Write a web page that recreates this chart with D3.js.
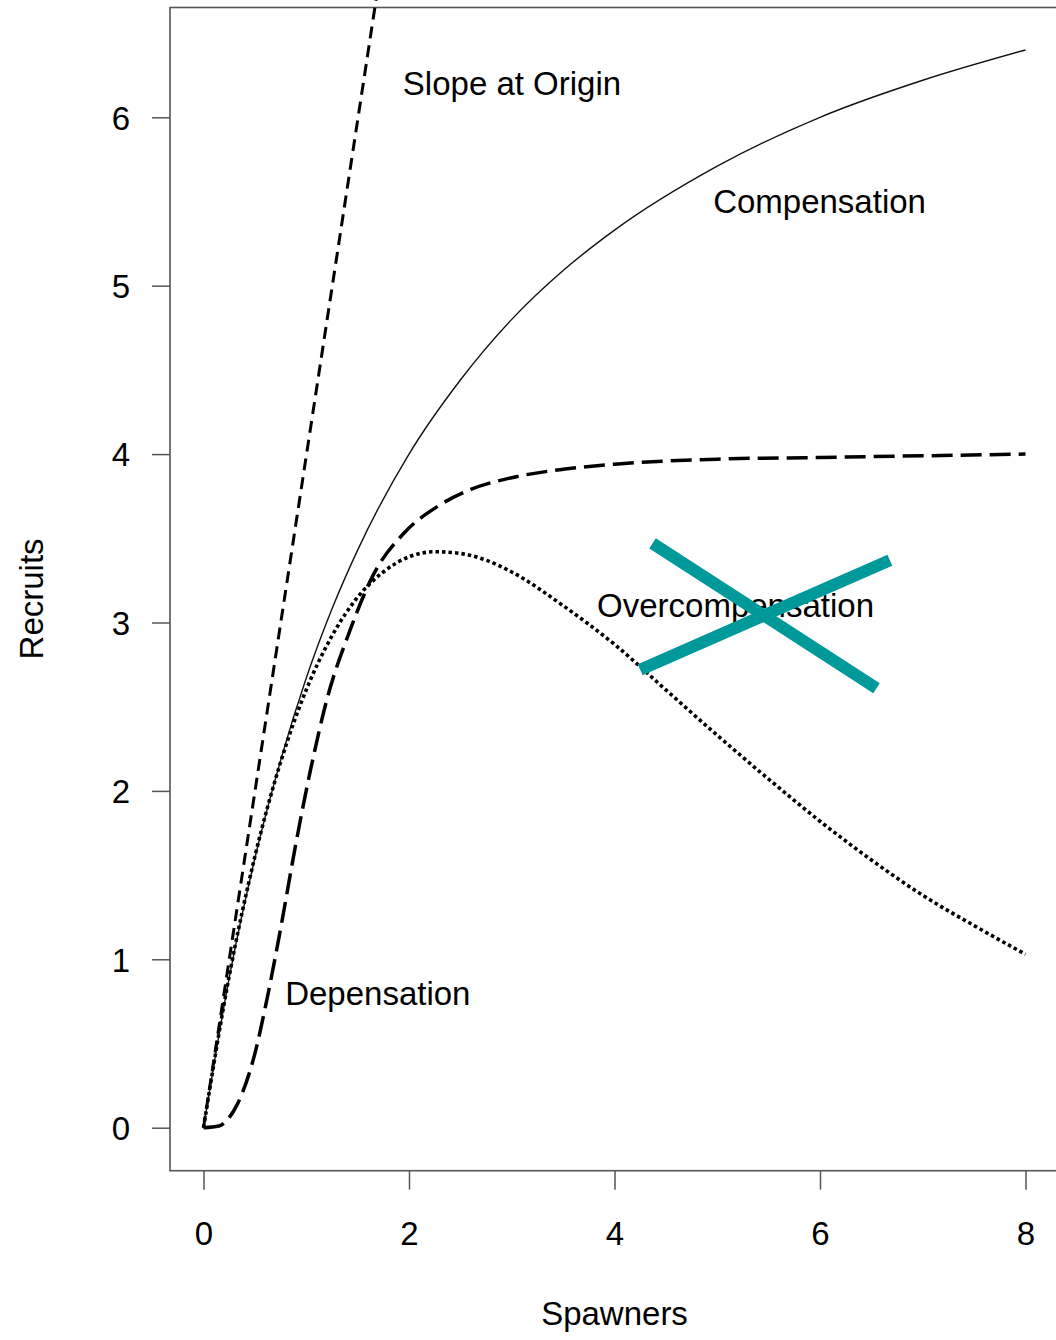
<!DOCTYPE html>
<html>
<head>
<meta charset="utf-8">
<script src="https://cdn.jsdelivr.net/npm/d3@7"></script>
<style>
  html, body { margin: 0; padding: 0; background: #fff; }
  svg { display: block; }
  text { font-family: "Liberation Sans", Arial, sans-serif; fill: #000; }
</style>
</head>
<body>
<svg id="chart" width="1056" height="1340"></svg>
<script>
// ---- data ----
const xTicks = [0, 2, 4, 6, 8];
const yTicks = [0, 1, 2, 3, 4, 5, 6];
const xLabel = "Spawners";
const yLabel = "Recruits";

const slopeS = [0, 1.68];
const slopeR = [0, 6.70];

const compS = [0, 0.25, 0.5, 0.75, 1, 1.25, 1.5, 2, 2.5, 3, 3.5, 4, 5, 6, 7, 8];
const compR = [0, 0.89, 1.60, 2.18, 2.67, 3.08, 3.43, 4.00, 4.44, 4.80, 5.09, 5.33, 5.71, 6.00, 6.22, 6.40];

const depS = [0, 0.15, 0.25, 0.33, 0.5, 0.62, 0.75, 0.9, 1.04, 1.2, 1.43, 1.65, 1.95, 2.28, 2.6, 3, 3.5, 4, 5, 6, 7, 8];
const depR = [0, 0.01, 0.06, 0.14, 0.44, 0.77, 1.18, 1.69, 2.12, 2.54, 2.96, 3.28, 3.53, 3.69, 3.79, 3.86, 3.91, 3.94, 3.97, 3.98, 3.99, 4.00];

const overS = [0, 0.25, 0.5, 0.75, 1, 1.25, 1.5, 1.75, 2, 2.25, 2.5, 2.75, 3, 3.5, 4, 4.5, 5, 5.5, 6, 6.5, 7, 7.5, 8];
const overR = [0, 0.90, 1.61, 2.17, 2.60, 2.92, 3.15, 3.30, 3.39, 3.42, 3.41, 3.37, 3.30, 3.10, 2.87, 2.60, 2.33, 2.07, 1.82, 1.59, 1.38, 1.20, 1.03];

const labelText = ["Slope at Origin", "Compensation", "Overcompensation", "Depensation"];
const labelS = [1.94, 4.96, 3.83, 0.795];
const labelR = [6.13, 5.43, 3.03, 0.73];

// teal cross-out annotation (two strokes), in data units
const crossS1 = [4.37, 6.55], crossR1 = [3.47, 2.61];
const crossS2 = [4.25, 6.68], crossR2 = [2.72, 3.37];

// ---- layout ----
const svg = d3.select("#chart");
const box = { left: 170, top: 7.5, bottom: 1170.7, right: 1070 };
const x = d3.scaleLinear().domain([0, 8]).range([203.5, 1025.5]);
const y = d3.scaleLinear().domain([0, 6]).range([1127.7, 117.3]);

const axisColor = "#555";
const fontSize = 33;

// plot box
svg.append("rect")
  .attr("x", box.left).attr("y", box.top)
  .attr("width", box.right - box.left).attr("height", box.bottom - box.top)
  .attr("fill", "none").attr("stroke", axisColor).attr("stroke-width", 1.6);

// axes
const xAxis = d3.axisBottom(x).tickValues(xTicks).tickSize(19).tickPadding(32).tickFormat(d3.format("d"));
const gx = svg.append("g").attr("transform", `translate(0,${box.bottom})`).call(xAxis);
gx.select(".domain").remove();
gx.selectAll(".tick line").attr("stroke", axisColor).attr("stroke-width", 1.5);
gx.selectAll(".tick text").style("font-size", fontSize + "px").style("font-family", "Liberation Sans, Arial, sans-serif").attr("fill", "#000");

const yAxis = d3.axisLeft(y).tickValues(yTicks).tickSize(18).tickPadding(22).tickFormat(d3.format("d"));
const gy = svg.append("g").attr("transform", `translate(${box.left},0)`).call(yAxis);
gy.select(".domain").remove();
gy.selectAll(".tick line").attr("stroke", axisColor).attr("stroke-width", 1.5);
gy.selectAll(".tick text").style("font-size", fontSize + "px").style("font-family", "Liberation Sans, Arial, sans-serif").attr("fill", "#000").attr("dy", "0.36em");

// axis titles
svg.append("text").attr("x", x(4)).attr("y", 1325).attr("text-anchor", "middle")
  .style("font-size", fontSize + "px").text(xLabel);
svg.append("text").attr("transform", `translate(43,${y(3.14)}) rotate(-90)`).attr("text-anchor", "middle")
  .style("font-size", fontSize + "px").text(yLabel);

// curves
const zip = (a, b) => a.map((v, i) => [v, b[i]]);
const line = d3.line().x(d => x(d[0])).y(d => y(d[1])).curve(d3.curveMonotoneX);
const straight = d3.line().x(d => x(d[0])).y(d => y(d[1]));

svg.append("path").attr("d", straight(zip(slopeS, slopeR)))
  .attr("fill", "none").attr("stroke", "#000").attr("stroke-width", 3)
  .attr("stroke-dasharray", "12,7");

svg.append("path").attr("d", line(zip(compS, compR)))
  .attr("fill", "none").attr("stroke", "#111").attr("stroke-width", 1.4);

svg.append("path").attr("d", line(zip(depS, depR)))
  .attr("fill", "none").attr("stroke", "#000").attr("stroke-width", 3.5)
  .attr("stroke-dasharray", "21,8");

svg.append("path").attr("d", line(zip(overS, overR)))
  .attr("fill", "none").attr("stroke", "#000").attr("stroke-width", 3.6)
  .attr("stroke-dasharray", "3.5,3");

// labels
labelText.forEach((t, i) => {
  svg.append("text").attr("x", x(labelS[i])).attr("y", y(labelR[i]))
    .style("font-size", fontSize + "px").text(t);
});

// teal cross
[[crossS1, crossR1], [crossS2, crossR2]].forEach(([s, r]) => {
  svg.append("path").attr("d", straight(zip(s, r)))
    .attr("fill", "none").attr("stroke", "#00999a").attr("stroke-width", 12)
    .attr("stroke-linecap", "butt");
});
</script>
</body>
</html>
